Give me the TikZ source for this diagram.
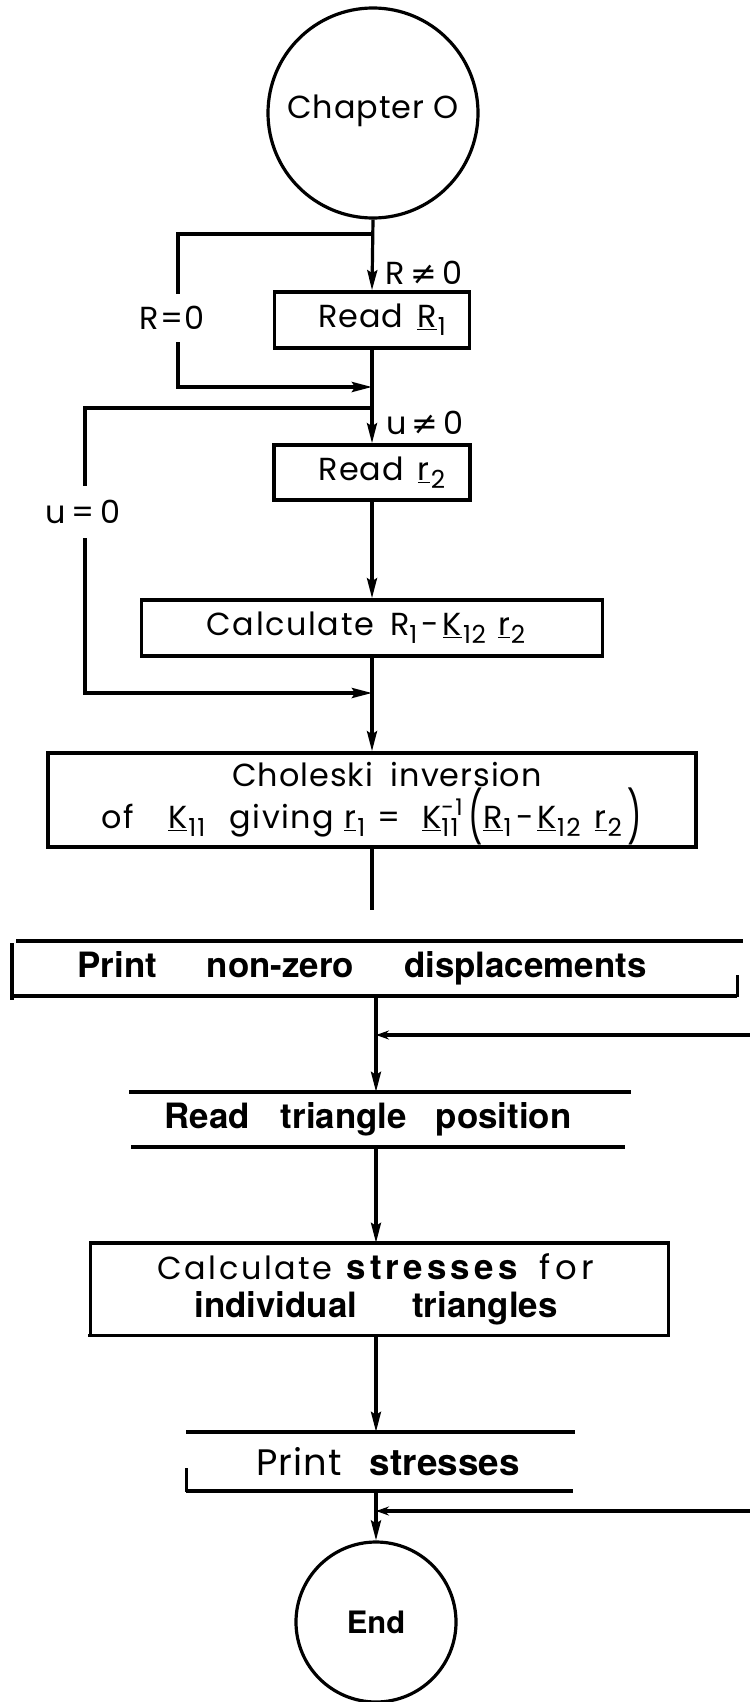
\documentclass[tikz,border=0pt]{standalone}
\usepackage{fontspec}
\setmainfont{Poppins}
\newfontfamily\boldf{TeX Gyre Heros}
\newfontfamily\symf{DejaVu Sans}
\usetikzlibrary{arrows.meta}
\newcommand\sbs[1]{\raisebox{-0.24em}{\scalebox{0.78}{#1}}}
\newcommand\sps[1]{\smash{\raisebox{0.42em}{\scalebox{0.72}{#1}}}}
\newcommand\vsub[2]{\underline{#1}\kern1bp\sbs{#2}}
\newcommand\bigp[1]{\smash{\raisebox{-7bp}{\scalebox{1}[1.6]{#1}}}}
\newcommand\lettf{\normalfont\fontsize{32}{36}\selectfont\addfontfeature{LetterSpace=3}}
\newcommand\boldtf{\boldf\bfseries\fontsize{35}{38}\selectfont}
\begin{document}
\begin{tikzpicture}[x=1bp,y=-1bp,
  lett/.style={font=\lettf},
  bld/.style={font=\boldtf},
  box/.style={draw, line width=3.6bp, inner sep=0, lett},
  conn/.style={line width=3.2bp},
  arr/.style={conn, -{Stealth[length=20bp,width=10bp,inset=3bp]}},
  smallarr/.style={conn, -{Stealth[length=13bp,width=9bp]}},
  lbl/.style={lett, inner sep=0},
  thickline/.style={line width=4.6bp},
  midline/.style={line width=3.6bp},
  thinline/.style={line width=3bp}]
\fill[white] (0,0) rectangle (750,1702);
\useasboundingbox (0,0) rectangle (750,1702);

% ---------- top part ----------
\node[circle, draw, line width=3.2bp, minimum size=210bp, inner sep=0, lett] (ch) at (373,113) {\raisebox{12bp}{Chapter O}};
\node[box, minimum width=195bp, minimum height=56bp] (rR1) at (372,320) {\hspace*{20bp}Read\hspace{14bp}\vsub{R}{1}};
\node[box, minimum width=196bp, minimum height=55bp] (rr2) at (372,472.5) {\hspace*{20bp}Read\hspace{14bp}\vsub{r}{2}};
\node[box, minimum width=461bp, minimum height=56bp] (calc) at (372,628)
  {\hspace*{-6bp}{\addfontfeature{LetterSpace=5}Calculate}\hspace{16bp}R\sbs{1}\hspace{4bp}-\hspace{4bp}\vsub{K}{12}\hspace{12bp}\vsub{r}{2}\hspace*{6bp}};
\node[box, minimum width=648bp, minimum height=94bp, align=center, font=\lettf\fontsize{32}{42}\selectfont] (chol) at (372,800)
  {\hspace*{30bp}Choleski\hspace{18bp}inversion\\{\addfontfeature{LetterSpace=5}of\hspace{34bp}\vsub{K}{11}\hspace{24bp}giving\hspace{10bp}\vsub{r}{1}\hspace{12bp}=\hspace{22bp}\underline{K}\rlap{\sps{-1}}\sbs{11}\hspace{10bp}\bigp{(}\vsub{R}{1}\hspace{5bp}-\hspace{3bp}\vsub{K}{12}\hspace{14bp}\vsub{r}{2}\hspace{6bp}\bigp{)}}};

\coordinate (j1) at (372,234);
\coordinate (c1) at (178,234);
\coordinate (c2) at (178,387);
\coordinate (j2) at (372,387);
\coordinate (j3) at (372,408);
\coordinate (c3) at (85,408);
\coordinate (c4) at (85,693);
\coordinate (j4) at (372,693);
\coordinate (e1) at (372,910);

\draw[arr] (ch.south) -- (rR1.north);
\draw[arr] (rR1.south) -- (rr2.north);
\draw[arr] (rr2.south) -- (calc.north);
\draw[arr] (calc.south) -- (chol.north);
\draw[conn] (chol.south) -- (e1);
\draw[arr, line width=3.6bp] (j1) -- (c1) -- (c2) -- (j2);
\draw[arr, line width=3.4bp] (j3) -- (c3) -- (c4) -- (j4);

\node[lbl, fill=white, inner ysep=12bp, inner xsep=1bp] (lR0) at (172,318) {R=0};
\node[lbl, fill=white, inner ysep=14bp, inner xsep=1bp] (lu0) at (83,512) {u\,=\,0};
\node[lbl] (lRn) at (424,273) {R\,{\symf ≠}\,0};
\node[lbl] (lun) at (425,423) {u\,{\symf ≠}\,0};

% ---------- lower part ----------
\node[bld, inner sep=0, minimum height=55bp] (pnz) at (376,968.5)
  {\hspace*{-28bp}Print\hspace{50bp}non-zero\hspace{50bp}displacements};
\draw[thickline] (16,941) -- (743,941);
\draw[thickline] (12,943) -- (12,1000);
\draw[thickline] (12,996) -- (737,996);
\draw[thinline] (737,975) -- (737,997);

\node[bld, inner sep=0, minimum height=55bp] (rt) at (376,1119.5)
  {\hspace*{-16bp}Read\hspace{31bp}triangle\hspace{29bp}position};
\draw[thickline] (129,1092) -- (631,1092);
\draw[midline] (131,1147) -- (625,1147);

\node[bld, inner sep=0, minimum height=92bp, align=center, font=\boldtf] (cs) at (376,1289)
  {{\lettf\addfontfeature{LetterSpace=8}Calculate}\hspace{14bp}{\addfontfeature{LetterSpace=12}stresses}\hspace{22bp}{\lettf\fontsize{34}{36}\selectfont\addfontfeature{LetterSpace=14}for}\\individual\hspace{55bp}triangles};
\draw[thickline] (90,1243) -- (668,1243);
\draw[thinline] (90,1241) -- (90,1337);
\draw[thinline] (668,1241) -- (668,1337);
\draw[thinline] (88,1335) -- (670,1335);

\node[bld, inner sep=0, minimum height=59bp] (ps) at (376,1461.5)
  {\hspace*{24bp}{\lettf\fontsize{37}{40}\selectfont Print}\hspace{28bp}{\fontsize{37}{40}\selectfont stresses}};
\draw[thickline] (186,1432) -- (575,1432);
\draw[midline] (186,1491) -- (573,1491);
\draw[thinline] (186,1468) -- (186,1492);

\node[circle, draw, line width=3.2bp, minimum size=160bp, inner sep=0, font=\boldf\bfseries\fontsize{31}{34}\selectfont] (end) at (376,1622) {End};

\coordinate (f1) at (750,1035);
\coordinate (jf1) at (376,1035);
\coordinate (f2) at (750,1511);
\coordinate (jf2) at (376,1511);

\draw[arr] (pnz.south) -- (rt.north);
\draw[arr] (rt.south) -- (cs.north);
\draw[arr] (cs.south) -- (ps.north);
\draw[arr] (ps.south) -- (end.north);
\draw[smallarr] (f1) -- (jf1);
\draw[smallarr] (f2) -- (jf2);
\end{tikzpicture}
\end{document}
